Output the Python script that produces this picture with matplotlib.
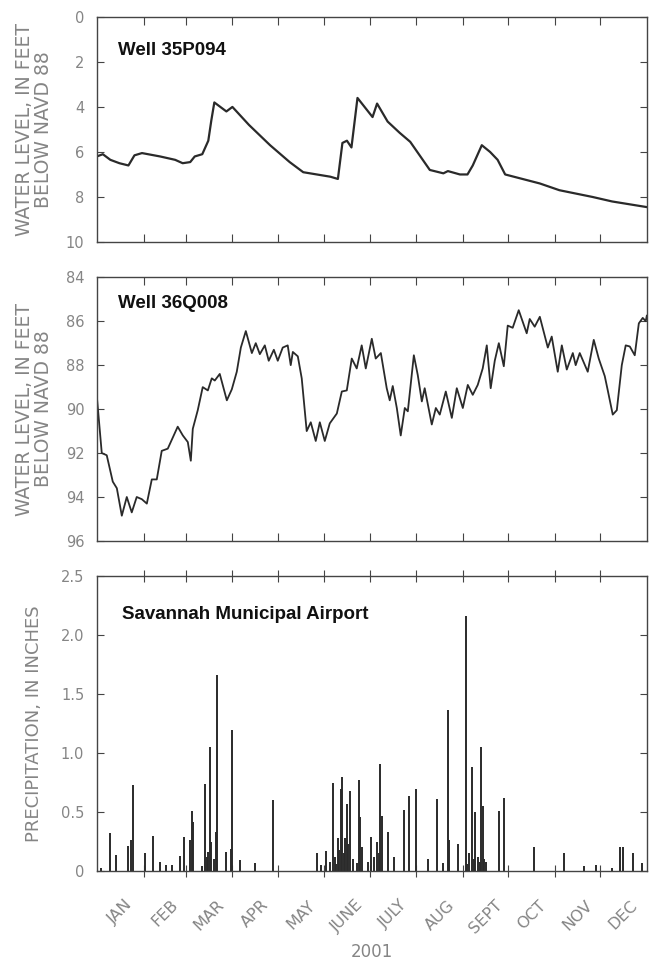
import numpy as np
import matplotlib.pyplot as plt

# day of year 2001 (Jan 1 = 0)
month_starts = [0, 31, 59, 90, 120, 151, 181, 212, 243, 273, 304, 334, 365]
month_labels = ['JAN', 'FEB', 'MAR', 'APR', 'MAY', 'JUNE', 'JULY', 'AUG',
                'SEPT', 'OCT', 'NOV', 'DEC']

# Well 35P094, feet below NAVD 88
w1_day = [0, 4, 9, 15, 21, 25, 30, 42, 52, 57, 62, 65, 70, 74, 76, 78, 82, 86,
          90, 101, 115, 128, 137, 155, 160, 163, 166, 169, 173, 183, 186, 193,
          201, 208, 221, 230, 233, 241, 246, 249.5, 255.5, 261, 266, 271, 294,
          307, 329, 342, 365]
w1_lvl = [6.2, 6.1, 6.35, 6.5, 6.6, 6.15, 6.05, 6.2, 6.35, 6.5, 6.45, 6.2, 6.1,
          5.5, 4.6, 3.8, 4.0, 4.2, 4.0, 4.8, 5.7, 6.45, 6.9, 7.1, 7.2, 5.6, 5.5,
          5.8, 3.6, 4.45, 3.85, 4.65, 5.15, 5.55, 6.8, 6.95, 6.85, 7.0, 7.0,
          6.6, 5.7, 6.0, 6.35, 7.0, 7.4, 7.7, 8.0, 8.2, 8.45]

# Well 36Q008, feet below NAVD 88
w2_day = [0, 3.3, 6.6, 10.6, 13.3, 16.6, 19.9, 23.2, 26.5, 29.9, 33.2, 36.5,
          39.8, 43.1, 47.1, 50.4, 53.7, 57.1, 60.4, 62.4, 63.7, 67.0, 70.3,
          73.7, 76.3, 78.3, 81.6, 86.3, 89.6, 92.9, 95.6, 98.9, 102.9, 105.5,
          108.2, 111.5, 114.1, 117.5, 120.1, 123.4, 126.7, 128.7, 130.1, 133.4,
          136.0, 139.3, 142.0, 145.3, 148.0, 151.3, 154.6, 159.3, 162.6, 165.9,
          169.2, 172.5, 175.8, 178.5, 182.5, 185.1, 188.5, 192.4, 194.4, 196.4,
          199.1, 201.7, 204.4, 206.4, 210.4, 213.0, 215.7, 217.6, 222.3, 225.0,
          227.6, 231.6, 235.6, 238.9, 242.9, 246.2, 249.5, 252.8, 256.1, 258.8,
          261.4, 264.1, 266.8, 270.1, 272.7, 276.0, 280.0, 285.3, 287.3, 290.6,
          294.0, 299.3, 301.9, 305.9, 308.6, 311.9, 315.9, 317.8, 320.5, 325.8,
          329.8, 333.1, 337.1, 339.1, 342.4, 345.1, 348.4, 351.0, 353.7, 357.0,
          359.7, 362.3, 364.3, 365]
w2_lvl = [89.4, 92.0, 92.1, 93.3, 93.6, 94.85, 94.0, 94.7, 94.0, 94.1, 94.3,
          93.2, 93.2, 91.9, 91.8, 91.3, 90.8, 91.2, 91.5, 92.35, 90.9, 90.05,
          89.0, 89.15, 88.6, 88.7, 88.4, 89.6, 89.1, 88.3, 87.2, 86.45, 87.45,
          87.0, 87.5, 87.1, 87.8, 87.3, 87.8, 87.2, 87.1, 88.0, 87.4, 87.6,
          88.6, 91.0, 90.6, 91.45, 90.6, 91.45, 90.65, 90.2, 89.2, 89.15, 87.7,
          88.15, 87.1, 88.15, 86.8, 87.7, 87.45, 89.05, 89.6, 88.95, 89.95,
          91.2, 89.95, 90.1, 87.55, 88.45, 89.65, 89.05, 90.7, 89.95, 90.25,
          89.2, 90.4, 89.05, 89.95, 88.9, 89.35, 88.9, 88.15, 87.1, 89.05, 87.8,
          87.0, 88.05, 86.2, 86.3, 85.5, 86.55, 85.9, 86.25, 85.8, 87.2, 86.7,
          88.3, 87.1, 88.2, 87.45, 88.0, 87.45, 88.3, 86.85, 87.7, 88.5, 89.15,
          90.25, 90.05, 88.0, 87.1, 87.15, 87.55, 86.1, 85.85, 86.0, 85.75]

# Savannah Municipal Airport daily precipitation, inches
rain_day = [3, 9, 13, 21, 23, 24, 32, 37, 42, 46, 50, 55, 58, 62, 63, 64, 70,
            72, 73, 74, 75, 76, 78, 79, 80, 86, 89, 90, 95, 105, 117, 146, 149,
            152, 155, 157, 158, 159, 160, 161, 162, 163, 164, 165, 166, 167,
            168, 170, 173, 174, 175, 176, 180, 182, 184, 186, 187, 188, 189,
            193, 197, 204, 207, 212, 220, 226, 230, 233, 234, 240, 245, 246,
            247, 249, 250, 251, 253, 254, 255, 256, 257, 258, 267, 270, 290,
            310, 323, 331, 342, 347, 349, 356, 362]
rain_in = [0.03, 0.32, 0.14, 0.21, 0.26, 0.73, 0.15, 0.30, 0.08, 0.05, 0.05,
           0.13, 0.29, 0.26, 0.51, 0.42, 0.04, 0.74, 0.12, 0.16, 1.05, 0.25,
           0.10, 0.33, 1.66, 0.16, 0.19, 1.20, 0.09, 0.07, 0.60, 0.15, 0.05,
           0.17, 0.08, 0.75, 0.12, 0.06, 0.28, 0.18, 0.70, 0.80, 0.15, 0.28,
           0.57, 0.23, 0.68, 0.10, 0.07, 0.77, 0.46, 0.20, 0.08, 0.29, 0.12,
           0.25, 0.15, 0.91, 0.47, 0.33, 0.12, 0.52, 0.64, 0.70, 0.10, 0.61,
           0.07, 1.37, 0.26, 0.23, 2.16, 0.06, 0.15, 0.88, 0.10, 0.50, 0.12,
           0.08, 1.05, 0.55, 0.10, 0.08, 0.51, 0.62, 0.20, 0.15, 0.04, 0.05,
           0.03, 0.20, 0.20, 0.15, 0.07]

gray = '#858585'
ink = '#2a2a2a'
title_font = ['Liberation Sans', 'DejaVu Sans']

fig = plt.figure(figsize=(6.54, 9.66), dpi=100)
ax1 = fig.add_axes([0.148, 0.7495, 0.841, 0.233])
ax2 = fig.add_axes([0.148, 0.44, 0.841, 0.273])
ax3 = fig.add_axes([0.148, 0.0983, 0.841, 0.305])

ax1.plot(w1_day, w1_lvl, color=ink, lw=1.6)
ax2.plot(w2_day, w2_lvl, color=ink, lw=1.3)
ax3.vlines(rain_day, 0, rain_in, color=ink, lw=1.4)

ax1.set_ylim(10, 0)
ax1.set_yticks([0, 2, 4, 6, 8, 10])
ax2.set_ylim(96, 84)
ax2.set_yticks([84, 86, 88, 90, 92, 94, 96])
ax3.set_ylim(0, 2.5)
ax3.set_yticks([0, 0.5, 1.0, 1.5, 2.0, 2.5])
ax3.set_yticklabels(['0', '0.5', '1.0', '1.5', '2.0', '2.5'])

mids = [(month_starts[i] + month_starts[i + 1]) / 2 for i in range(12)]
for ax in (ax1, ax2, ax3):
    ax.set_xlim(0, 365)
    ax.set_xticks(month_starts[1:-1])
    ax.set_xticks(mids, minor=True)
    ax.tick_params(axis='x', which='major', direction='in', length=6,
                   top=True, bottom=True, labelbottom=False, color='#444444')
    ax.tick_params(axis='x', which='minor', length=0, labelbottom=False)
    ax.tick_params(axis='y', direction='in', length=5, left=True, right=True,
                   labelsize=10.5, labelcolor=gray, color='#444444', pad=9)
    for s in ax.spines.values():
        s.set_color('#444444')
        s.set_linewidth(1.0)

ax3.tick_params(axis='x', which='major', direction='inout', length=9)
ax3.tick_params(axis='x', which='minor', labelbottom=True, labelsize=11.5,
                labelcolor=gray, pad=19)
ax3.set_xticklabels(month_labels, minor=True, rotation=45, ha='center')

ylab = 'WATER LEVEL, IN FEET\nBELOW NAVD 88'
ax1.set_ylabel(ylab, fontsize=13.5, color=gray, labelpad=9, linespacing=1.0)
ax2.set_ylabel(ylab, fontsize=13.5, color=gray, labelpad=9, linespacing=1.0)
ax3.set_ylabel('PRECIPITATION, IN INCHES', fontsize=13, color=gray,
               labelpad=13)
ax3.set_xlabel('2001', fontsize=12, color=gray, labelpad=5)

ax1.text(0.038, 0.85, 'Well 35P094', transform=ax1.transAxes, fontsize=13.5,
         fontweight='bold', family=title_font, color='#111111', va='center')
ax2.text(0.038, 0.90, 'Well 36Q008', transform=ax2.transAxes, fontsize=13.5,
         fontweight='bold', family=title_font, color='#111111', va='center')
ax3.text(0.045, 0.87, 'Savannah Municipal Airport', transform=ax3.transAxes,
         fontsize=13.5, fontweight='bold', family=title_font, color='#111111',
         va='center')

fig.savefig('out.png', dpi=100)
